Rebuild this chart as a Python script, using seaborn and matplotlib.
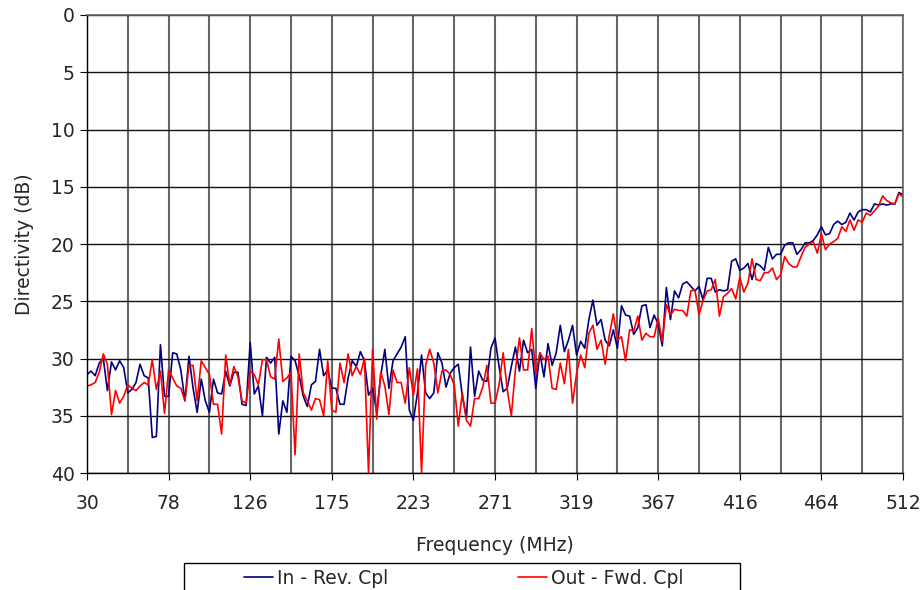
import numpy as np
import matplotlib
matplotlib.use("Agg")
import matplotlib.pyplot as plt
from matplotlib.lines import Line2D
from matplotlib.patches import Rectangle
import seaborn as sns
sns.set_style("white")
plt.rcParams['font.family'] = ['DejaVu Sans']

# 201 frequency points from 30 to 512 MHz
freq = np.linspace(30, 512, 201)
tick_labels = ['30', '78', '126', '175', '223', '271', '319', '367', '416', '464', '512']

# In - Rev. Cpl (dB)
rev_cpl = [31.4, 31.1, 31.5, 30.4, 30.0, 32.8, 30.3, 31.0, 30.2, 30.8,
           33.0, 32.7, 32.1, 30.5, 31.5, 31.7, 36.9, 36.8, 28.8, 33.3,
           33.3, 29.5, 29.6, 31.0, 33.7, 29.8, 32.6, 34.7, 31.8, 33.7,
           34.7, 31.8, 33.0, 33.1, 31.1, 32.4, 31.2, 31.2, 34.0, 34.1,
           28.6, 33.1, 32.4, 35.0, 29.9, 30.4, 29.9, 36.6, 33.7, 34.7,
           29.8, 30.2, 31.5, 33.3, 34.2, 32.3, 32.0, 29.2, 31.5, 31.0,
           32.6, 32.6, 34.0, 34.0, 31.7, 30.2, 30.7, 29.4, 30.2, 33.2,
           32.6, 34.7, 31.5, 29.2, 32.6, 30.2, 29.6, 29.0, 28.1, 34.5,
           35.4, 33.0, 29.7, 33.0, 33.5, 33.0, 29.5, 30.4, 32.5, 31.3,
           30.8, 30.5, 33.3, 35.2, 29.0, 33.3, 31.1, 31.9, 32.0, 29.1,
           28.2, 30.7, 32.9, 32.6, 30.7, 29.0, 31.1, 28.4, 29.5, 29.2,
           32.6, 29.5, 31.6, 28.7, 30.6, 29.5, 27.1, 29.4, 28.4, 27.1,
           29.7, 28.5, 29.1, 26.6, 24.9, 27.1, 26.6, 28.4, 28.9, 27.5,
           29.1, 25.4, 26.2, 26.3, 27.9, 27.3, 25.4, 25.3, 27.3, 26.2,
           27.0, 28.9, 23.8, 26.6, 24.1, 24.7, 23.5, 23.3, 23.7, 24.1,
           23.7, 24.9, 23.0, 23.0, 24.2, 24.0, 24.1, 24.0, 21.5, 21.3,
           22.3, 22.1, 21.7, 23.1, 21.7, 21.9, 22.3, 20.3, 21.3, 20.9,
           20.9, 20.1, 19.9, 19.9, 20.9, 20.5, 19.9, 19.9, 19.7, 19.2,
           18.5, 19.2, 19.1, 18.3, 18.0, 18.3, 18.1, 17.3, 17.9, 17.2,
           17.0, 17.0, 17.2, 16.5, 16.6, 16.5, 16.6, 16.5, 16.5, 15.5,
           15.7]

# Out - Fwd. Cpl (dB)
fwd_cpl = [32.4, 32.3, 32.1, 31.2, 29.6, 30.5, 34.9, 32.8, 33.9, 33.3,
           32.3, 32.6, 32.8, 32.4, 32.1, 32.3, 30.1, 32.7, 31.1, 34.8,
           31.0, 31.7, 32.4, 32.6, 33.7, 30.6, 30.6, 33.7, 30.2, 30.8,
           31.4, 34.0, 34.0, 36.6, 29.7, 32.3, 30.7, 31.6, 33.7, 33.9,
           31.1, 31.4, 32.3, 30.1, 30.1, 31.6, 31.8, 28.3, 32.0, 31.7,
           31.2, 38.4, 29.6, 33.0, 33.7, 34.5, 33.5, 33.6, 35.0, 30.2,
           34.5, 34.7, 30.4, 32.1, 29.6, 31.5, 30.7, 31.4, 30.0, 40.0,
           29.2, 35.3, 31.2, 32.4, 34.9, 31.0, 32.1, 32.1, 33.9, 30.8,
           33.2, 30.9, 40.0, 30.6, 29.2, 30.4, 33.0, 31.1, 31.0, 31.4,
           32.3, 35.9, 33.0, 35.4, 35.9, 33.5, 33.5, 32.5, 30.6, 33.9,
           33.9, 32.3, 29.5, 32.7, 35.0, 31.0, 28.2, 31.0, 31.0, 27.4,
           31.3, 29.5, 30.1, 29.8, 32.6, 32.7, 30.4, 32.2, 29.2, 33.9,
           31.3, 29.7, 30.8, 27.8, 27.1, 29.2, 28.4, 30.5, 28.0, 26.1,
           28.4, 28.1, 30.2, 27.5, 27.6, 26.3, 28.4, 27.8, 28.1, 28.1,
           26.5, 28.5, 25.3, 26.2, 25.7, 25.8, 25.8, 26.3, 24.1, 24.0,
           26.2, 24.9, 24.1, 24.0, 23.1, 26.3, 24.6, 24.3, 23.9, 24.8,
           22.9, 24.2, 23.4, 21.3, 23.1, 23.2, 22.5, 22.5, 22.1, 23.1,
           22.7, 21.1, 21.7, 22.0, 22.0, 21.1, 20.3, 20.0, 19.8, 20.8,
           19.1, 20.5, 20.0, 19.8, 19.5, 18.5, 18.9, 17.9, 18.8, 17.9,
           18.1, 17.3, 17.5, 17.1, 16.7, 15.8, 16.2, 16.4, 16.5, 15.6,
           15.9]

fs = 13.5

fig = plt.figure(figsize=(9.23, 5.90), dpi=100)
ax = fig.add_axes([87/923, 1-473/590, 816/923, 458/590])

# plots
sns.lineplot(x=freq, y=rev_cpl, ax=ax, color='#000080', lw=1.2)
sns.lineplot(x=freq, y=fwd_cpl, ax=ax, color='#ff0000', lw=1.2)

# axes
ax.set_xlim(30, 512)
ax.set_ylim(40, 0)
ax.set_yticks(np.arange(0, 41, 5))
ax.set_xticks(freq[::20])
ax.set_xticklabels(tick_labels)
ax.set_xticks(freq[10::20], minor=True)
ax.tick_params(axis='both', which='major', labelsize=fs, length=5,
               direction='out', color='black', left=True, bottom=True)
ax.tick_params(axis='x', which='minor', length=0)
ax.tick_params(axis='x', pad=10)
ax.tick_params(axis='y', pad=4)

# gridlines, excel style
ax.grid(True, axis='x', which='both', color='#666666', lw=1.5)
ax.grid(True, axis='y', which='major', color='#111111', lw=1.0)
ax.set_axisbelow(True)
for s in ['left', 'bottom']:
    ax.spines[s].set_color('black')
    ax.spines[s].set_linewidth(1.0)
for s in ['top', 'right']:
    ax.spines[s].set_color('#666666')
    ax.spines[s].set_linewidth(1.2)

ax.set_xlabel('Frequency (MHz)', fontsize=fs, labelpad=17)
ax.set_ylabel('Directivity (dB)', fontsize=fs, labelpad=12)

# legend box at bottom (runs off the figure edge)
fig.patches.append(Rectangle((184/923, -0.02), 556/923, 0.02 + 27/590,
                             transform=fig.transFigure, fill=False,
                             edgecolor='black', lw=1.0, clip_on=False))
handles = [Line2D([], [], color='#000080', lw=1.2),
           Line2D([], [], color='#ff0000', lw=1.2)]
fig.legend(handles, ['In - Rev. Cpl', 'Out - Fwd. Cpl'], loc='center left',
           bbox_to_anchor=(244/923, 1-578/590), ncol=2, frameon=False,
           fontsize=fs, handlelength=1.57, handletextpad=0.2,
           columnspacing=6.9, borderpad=0, borderaxespad=0)

plt.savefig('out.png', dpi=100)
